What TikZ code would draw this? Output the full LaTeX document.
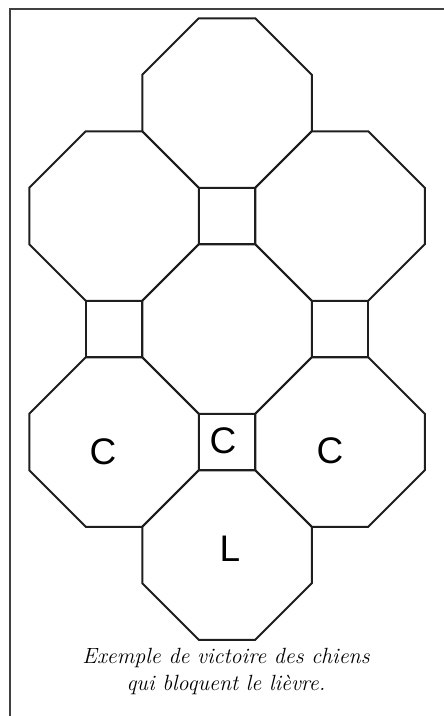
\documentclass[tikz,border=0pt]{standalone}
\usepackage{fontspec}
\usepackage{tikz}
\usetikzlibrary{positioning}
\newfontfamily\lettrefont{Liberation Sans}
\definecolor{traitnoir}{RGB}{30,30,30}

\begin{document}
\begin{tikzpicture}[
    x=1pt, y=-1pt,
    cadre/.style={draw=traitnoir!85, line width=1.8pt},
    case/.style={draw=traitnoir, line width=2pt, line join=miter},
    pion/.style={font=\lettrefont\fontsize{37}{37}\selectfont, inner sep=0pt},
    legende/.style={font=\itshape\fontsize{22}{27}\selectfont, align=center, inner sep=0pt}
]
\useasboundingbox (0,0) rectangle (444,716);
\draw[cadre] (444,9) -- (10,9) -- (10,716);

\foreach \cx/\cy in {227/103, 114/216, 340/216, 227/329,
                     114/442, 340/442, 227/555}{
    \draw[case, shift={(\cx,\cy)}]
        (-28.25,-84.75) -- (28.25,-84.75) -- (84.75,-28.25) -- (84.75,28.25)
        -- (28.25,84.75) -- (-28.25,84.75) -- (-84.75,28.25) -- (-84.75,-28.25)
        -- cycle;
}
\foreach \cx/\cy in {227/216, 114/329, 340/329, 227/442}{
    \draw[case, shift={(\cx,\cy)}] (-28.25,-28.25) rectangle (28.25,28.25);
}

\node[pion] (c1) at (103,452) {C};
\node[pion] (c2) at (223,441) {C};
\node[pion] (c3) at (330,451) {C};
\node[pion] (l1) at (230,549) {L};

\node[legende] (leg) at (226,671)
    {Exemple de victoire des chiens\\qui bloquent le lièvre.};
\end{tikzpicture}
\end{document}
